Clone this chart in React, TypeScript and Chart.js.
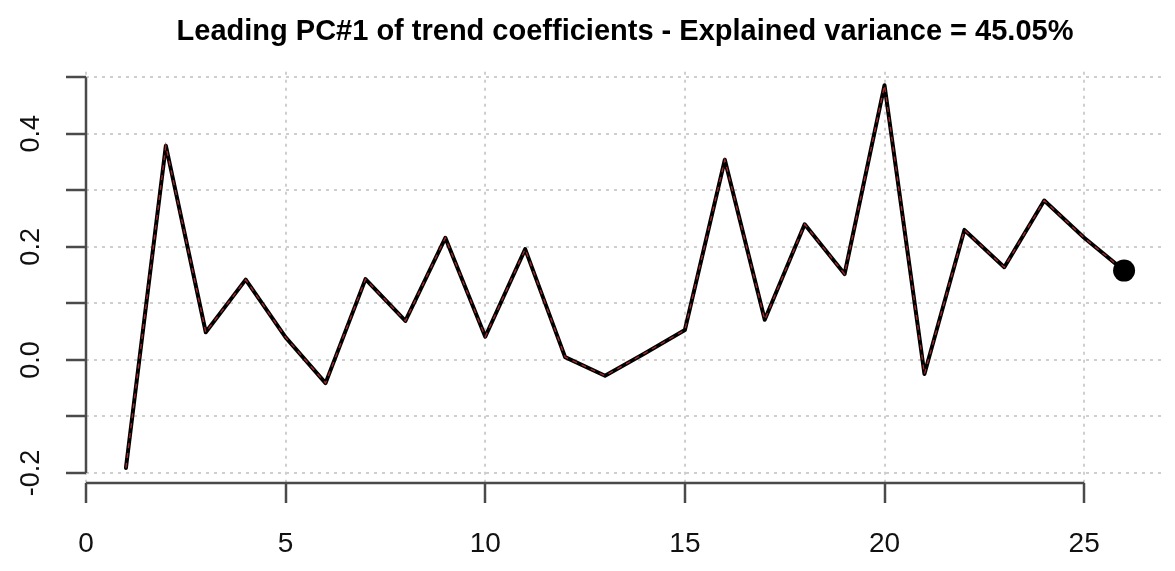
import React, { useEffect, useRef } from "react";
import { Chart, registerables } from "chart.js";

Chart.register(...registerables);

const titleText = "Leading PC#1 of trend coefficients - Explained variance = 45.05%";
const xValues = [1, 2, 3, 4, 5, 6, 7, 8, 9, 10, 11, 12, 13, 14, 15, 16, 17, 18, 19, 20, 21, 22, 23, 24, 25, 26];
const pcValues = [
  -0.191, 0.379, 0.049, 0.142, 0.04, -0.041, 0.143, 0.069, 0.216, 0.041,
  0.196, 0.005, -0.028, 0.012, 0.053, 0.354, 0.071, 0.24, 0.152, 0.486,
  -0.025, 0.23, 0.164, 0.282, 0.216, 0.158,
];
const lastPointX = [26];
const lastPointY = [0.158];
const xTickValues = [0, 5, 10, 15, 20, 25];
const yTickValues = [-0.2, -0.1, 0.0, 0.1, 0.2, 0.3, 0.4, 0.5];
const yLabelledTicks = ["-0.2", "0.0", "0.2", "0.4"];
const xRange = [0, 27];
const yRange = [-0.2177, 0.5097];

const FONT = "'Liberation Sans', Arial, Helvetica, sans-serif";

const rAxesPlugin = {
  id: "rAxes",
  afterDraw(chart: any) {
    const { ctx, chartArea, scales } = chart;
    const x = scales.x;
    const y = scales.y;
    ctx.save();
    ctx.strokeStyle = "#4a4a4a";
    ctx.lineWidth = 2.5;
    ctx.setLineDash([]);
    ctx.beginPath();
    ctx.moveTo(x.getPixelForValue(xTickValues[0]), chartArea.bottom);
    ctx.lineTo(x.getPixelForValue(xTickValues[xTickValues.length - 1]), chartArea.bottom);
    ctx.moveTo(chartArea.left, y.getPixelForValue(yTickValues[0]));
    ctx.lineTo(chartArea.left, y.getPixelForValue(yTickValues[yTickValues.length - 1]));
    ctx.stroke();
    ctx.restore();
  },
};

export default function App() {
  const canvasRef = useRef<HTMLCanvasElement | null>(null);

  useEffect(() => {
    if (!canvasRef.current) return;
    Chart.defaults.font.family = FONT;
    const linePoints = xValues.map((xv, i) => ({ x: xv, y: pcValues[i] }));
    const endPoints = lastPointX.map((xv, i) => ({ x: xv, y: lastPointY[i] }));
    const gridOpts = {
      color: "#cfcfcf",
      lineWidth: 2,
      drawTicks: true,
      tickLength: 20,
      tickColor: "#4a4a4a",
      tickWidth: 2.5,
      tickBorderDash: [],
    };
    const chart = new Chart(canvasRef.current, {
      type: "line",
      data: {
        datasets: [
          {
            data: endPoints,
            borderColor: "#000",
            backgroundColor: "#000",
            pointRadius: 11,
            pointBorderWidth: 0,
            showLine: false,
            order: 0,
          },
          {
            data: linePoints,
            borderColor: "#a52a2a",
            borderWidth: 1.3,
            borderDash: [5, 5],
            pointRadius: 0,
            fill: false,
            tension: 0,
            order: 1,
          },
          {
            data: linePoints,
            borderColor: "#000",
            borderWidth: 4,
            borderJoinStyle: "round",
            borderCapStyle: "round",
            pointRadius: 0,
            fill: false,
            tension: 0,
            order: 2,
          },
        ],
      },
      options: {
        animation: false,
        responsive: false,
        layout: { padding: { left: 0, right: 6, top: 0, bottom: 0 } },
        plugins: {
          legend: { display: false },
          tooltip: { enabled: false },
          title: {
            display: true,
            fullSize: false,
            text: titleText,
            color: "#000",
            font: { size: 29, weight: "bold", family: FONT },
            padding: { top: 15, bottom: 22 },
          },
        },
        scales: {
          x: {
            type: "linear",
            min: xRange[0],
            max: xRange[1],
            afterBuildTicks: (scale: any) => {
              scale.ticks = xTickValues.map((v) => ({ value: v }));
            },
            afterFit: (scale: any) => {
              scale.height = 88;
            },
            border: { display: false, dash: [3, 5] },
            grid: gridOpts,
            ticks: {
              color: "#111",
              font: { size: 28, family: FONT },
              padding: 24,
              maxRotation: 0,
              callback: (v: any) => String(v),
            },
          },
          y: {
            type: "linear",
            min: yRange[0],
            max: yRange[1],
            afterBuildTicks: (scale: any) => {
              scale.ticks = yTickValues.map((v) => ({ value: v }));
            },
            afterFit: (scale: any) => {
              scale.width = 86;
            },
            border: { display: false, dash: [3, 5] },
            grid: gridOpts,
            ticks: {
              color: "#111",
              font: { size: 27, family: FONT },
              padding: 11,
              minRotation: 90,
              maxRotation: 90,
              crossAlign: "center",
              callback: (v: any) => {
                const s = Number(v).toFixed(1);
                return yLabelledTicks.includes(s) ? s : "";
              },
            },
          },
        },
      },
      plugins: [rAxesPlugin],
    } as any);
    return () => chart.destroy();
  }, []);

  return (
    <div style={{ position: "absolute", left: 0, top: 0, width: 1175, height: 571, background: "#fff" }}>
      <canvas ref={canvasRef} width={1175} height={571} style={{ display: "block" }} />
    </div>
  );
}
